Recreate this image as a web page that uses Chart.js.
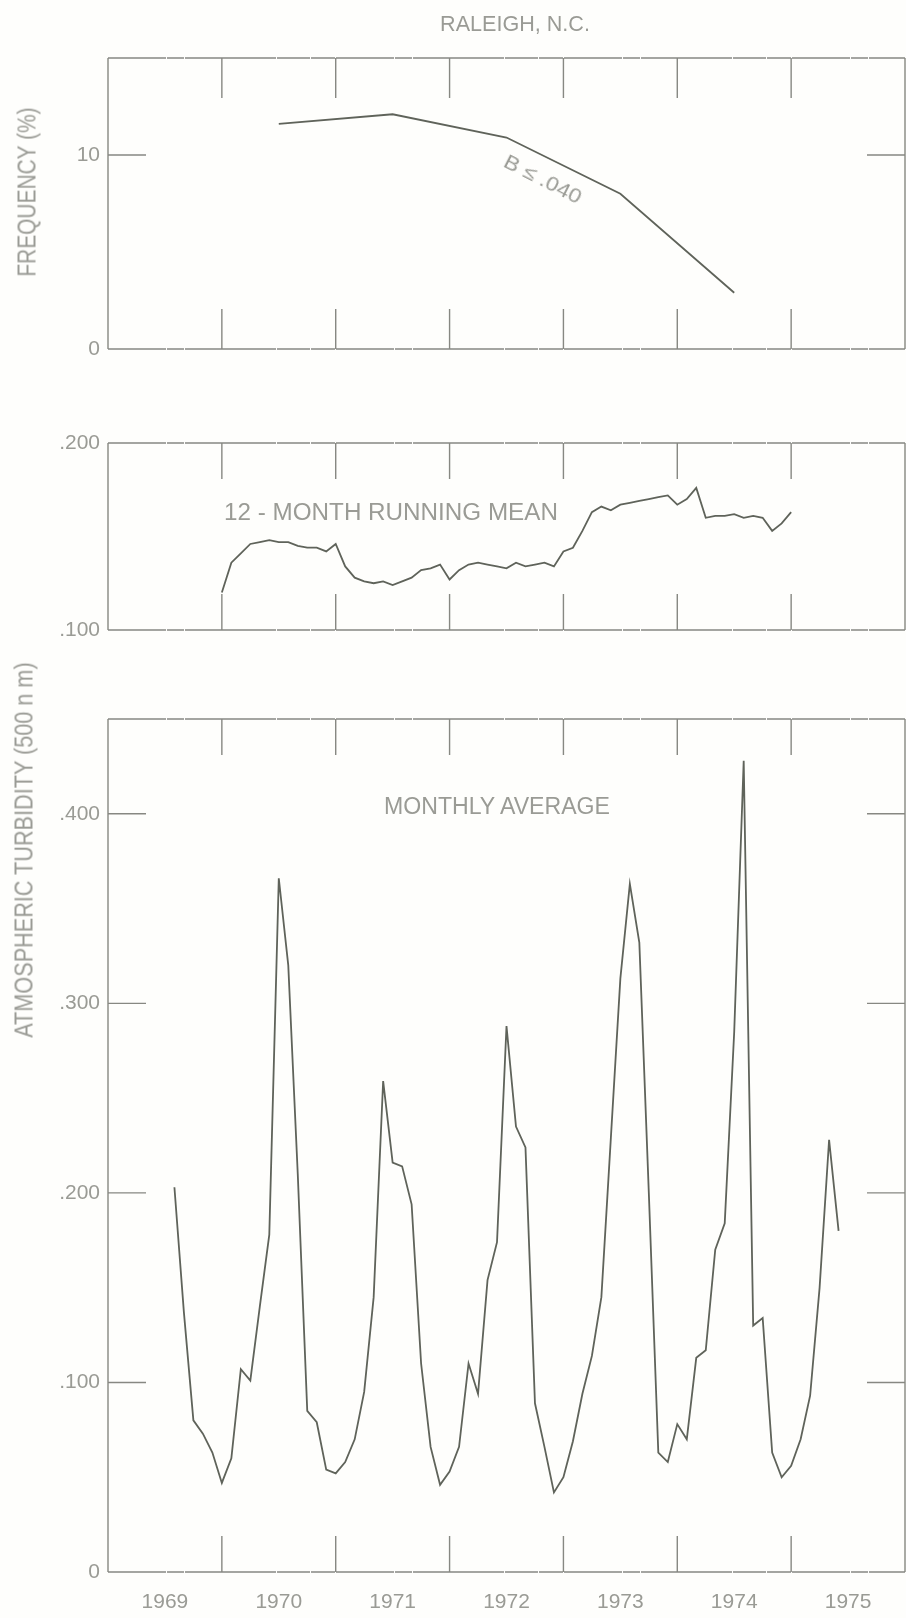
<!DOCTYPE html>
<html lang="en">
<head>
<meta charset="utf-8">
<title>Raleigh, N.C. atmospheric turbidity</title>
<script src="https://cdn.jsdelivr.net/npm/chart.js@4.4.1/dist/chart.umd.min.js"></script>
<style>
  html, body { margin: 0; padding: 0; background: #fefefc; }
  #page { position: relative; width: 906px; height: 1618px; overflow: hidden; background: #fefefc; }
  #page canvas { position: absolute; left: 0; }
  .txt { position: absolute; left: 0; top: 0; white-space: nowrap; line-height: 1;
         transform-origin: 0 0; color: #9a9b95;
         font-family: 'Liberation Sans', Arial, sans-serif; }
</style>
</head>
<body>
<div id="page">
  <canvas id="freqChart"></canvas>
  <canvas id="meanChart"></canvas>
  <canvas id="monthlyChart"></canvas>
  <div class="txt" id="title" style="font-size:22px">RALEIGH, N.C.</div>
  <div class="txt" id="freqTitle" style="font-size:25px">FREQUENCY (%)</div>
  <div class="txt" id="turbTitle" style="font-size:25px">ATMOSPHERIC TURBIDITY (500 n m)</div>
  <div class="txt" id="freqNote" style="font-size:20px">B ≤ .040</div>
  <div class="txt" id="meanNote" style="font-size:23px">12 - MONTH RUNNING MEAN</div>
  <div class="txt" id="monthlyNote" style="font-size:23px">MONTHLY AVERAGE</div>
</div>
<script>
// ---- data ---------------------------------------------------------------
const yearLabels = ['1969', '1970', '1971', '1972', '1973', '1974', '1975'];
const yearBounds = [1970, 1971, 1972, 1973, 1974, 1975];

// frequency (%) of days with B <= .040, one value per year, plotted mid-year
const freqYears = [1970.5, 1971.5, 1972.5, 1973.5, 1974.5];
const freqPct   = [11.6, 12.1, 10.9, 8.0, 2.9];

// 12-month running mean of turbidity, monthly from January 1970
const meanStart = 1970;
const meanTurbidity = [
  0.120, 0.136, 0.141, 0.146, 0.147, 0.148, 0.147, 0.147, 0.145, 0.144,
  0.144, 0.142, 0.146, 0.134, 0.128, 0.126, 0.125, 0.126, 0.124, 0.126,
  0.128, 0.132, 0.133, 0.135, 0.127, 0.132, 0.135, 0.136, 0.135, 0.134,
  0.133, 0.136, 0.134, 0.135, 0.136, 0.134, 0.142, 0.144, 0.153, 0.163,
  0.166, 0.164, 0.167, 0.168, 0.169, 0.170, 0.171, 0.172, 0.167, 0.170,
  0.176, 0.160, 0.161, 0.161, 0.162, 0.160, 0.161, 0.160, 0.153, 0.157,
  0.163
];

// monthly average turbidity (500 nm), from August 1969
const monthlyStart = 1969 + 7 / 12;
const monthlyTurbidity = [
  0.203, 0.137, 0.080, 0.073, 0.063,                                   // 1969 Aug-Dec
  0.047, 0.060, 0.107, 0.101, 0.140, 0.178, 0.366, 0.320, 0.210, 0.085, 0.079, 0.054, // 1970
  0.052, 0.058, 0.070, 0.095, 0.145, 0.259, 0.216, 0.214, 0.194, 0.110, 0.066, 0.046, // 1971
  0.053, 0.066, 0.110, 0.094, 0.154, 0.174, 0.288, 0.235, 0.224, 0.089, 0.066, 0.042, // 1972
  0.050, 0.069, 0.094, 0.114, 0.145, 0.229, 0.313, 0.363, 0.332, 0.200, 0.063, 0.058, // 1973
  0.078, 0.070, 0.113, 0.117, 0.170, 0.184, 0.285, 0.428, 0.130, 0.134, 0.063, 0.050, // 1974
  0.056, 0.070, 0.093, 0.150, 0.228, 0.180                                            // 1975
];

const freqTicks = [0, 10];
const meanTicks = [0.1, 0.2];
const turbTicks = [0, 0.1, 0.2, 0.3, 0.4];
const turbSideTicks = [0.1, 0.2, 0.3, 0.4];

// ---- layout & style -----------------------------------------------------
const PAGE_W = 906, PAGE_H = 1618;
const PLOT_LEFT = 108, PLOT_RIGHT = 905;
const PAD = 30;
const LINE = '#5f635a';
const FRAME = '#878882';
const TEXT = '#9a9b95';
const FONT = "'Liberation Sans', Arial, sans-serif";
const RULE_DASH = [58, 1, 17, 1, 91, 1, 33, 1, 24, 1];

const panels = {
  freq:    { top: 58,  bottom: 349,  min: 0,   max: 15   },
  mean:    { top: 443, bottom: 630,  min: 0.1, max: 0.2  },
  monthly: { top: 719, bottom: 1572, min: 0,   max: 0.45 }
};

const fmtTurb = v => (v === 0 ? '0' : '.' + String(Math.round(v * 1000)).padStart(3, '0'));

// frame with inward tick marks, drawn through the chart's own scales
const panelFrame = {
  id: 'panelFrame',
  beforeDatasetsDraw(chart, args, o) {
    const { ctx, chartArea: a, scales } = chart;
    ctx.save();
    ctx.strokeStyle = FRAME;
    ctx.lineWidth = 1.4;
    // horizontal rules, faintly broken like a ruled print
    ctx.setLineDash(RULE_DASH);
    ctx.beginPath();
    ctx.moveTo(a.left, a.top);    ctx.lineTo(a.right, a.top);
    ctx.moveTo(a.left, a.bottom); ctx.lineTo(a.right, a.bottom);
    ctx.stroke();
    ctx.setLineDash([]);
    ctx.beginPath();
    ctx.moveTo(a.left, a.top);  ctx.lineTo(a.left, a.bottom);
    ctx.moveTo(a.right, a.top); ctx.lineTo(a.right, a.bottom);
    for (const yr of o.xTicks) {
      const x = scales.x.getPixelForValue(yr);
      ctx.moveTo(x, a.top);    ctx.lineTo(x, a.top + o.xLen);
      ctx.moveTo(x, a.bottom); ctx.lineTo(x, a.bottom - o.xLen);
    }
    for (const v of o.yLeft) {
      const y = scales.y.getPixelForValue(v);
      ctx.moveTo(a.left, y); ctx.lineTo(a.left + o.yLen, y);
    }
    for (const v of o.yRight) {
      const y = scales.y.getPixelForValue(v);
      ctx.moveTo(a.right, y); ctx.lineTo(a.right - o.yLen, y);
    }
    ctx.stroke();
    ctx.restore();
  }
};

function makeChart(id, panel, opt) {
  const canvas = document.getElementById(id);
  const top = panel.top - PAD;
  const below = opt.showYears ? PAGE_H - panel.bottom : PAD;
  const h = panel.bottom - top + below;
  canvas.width = PAGE_W; canvas.height = h;
  canvas.style.top = top + 'px';
  canvas.style.width = PAGE_W + 'px'; canvas.style.height = h + 'px';

  const xScale = opt.showYears ? {
    type: 'linear', min: 1969, max: 1976,
    afterBuildTicks: s => { s.ticks = yearLabels.map(y => ({ value: Number(y) + 0.5 })); },
    afterFit: s => { s.height = PAGE_H - panel.bottom; },
    ticks: { autoSkip: false, maxRotation: 0, minRotation: 0, padding: 18, color: TEXT,
             font: { family: FONT, size: 21 }, callback: (v, i) => yearLabels[i] },
    grid: { display: false, drawTicks: false },
    border: { display: false }
  } : { type: 'linear', min: 1969, max: 1976, display: false };

  return new Chart(canvas, {
    type: 'line',
    data: { datasets: [{ data: opt.points, borderColor: LINE, borderWidth: 1.8,
                         pointRadius: 0, tension: 0, fill: false }] },
    options: {
      responsive: false, animation: false, devicePixelRatio: 1,
      layout: { padding: { top: PAD, bottom: opt.showYears ? 0 : PAD, left: 0, right: PAGE_W - PLOT_RIGHT } },
      plugins: {
        legend: { display: false }, tooltip: { enabled: false },
        panelFrame: opt.frame
      },
      scales: {
        x: xScale,
        y: {
          type: 'linear', min: panel.min, max: panel.max,
          afterFit: s => { s.width = PLOT_LEFT; },
          afterBuildTicks: s => { s.ticks = opt.yTicks.map(v => ({ value: v })); },
          ticks: { padding: 8, color: TEXT, font: { family: FONT, size: 21 }, callback: opt.fmt },
          grid: { display: false, drawTicks: false },
          border: { display: false }
        }
      }
    },
    plugins: [panelFrame]
  });
}

makeChart('freqChart', panels.freq, {
  points: freqYears.map((t, i) => ({ x: t, y: freqPct[i] })),
  yTicks: freqTicks, fmt: v => String(v),
  frame: { xTicks: yearBounds, xLen: 40, yLeft: [10], yRight: [10], yLen: 38 }
});

makeChart('meanChart', panels.mean, {
  points: meanTurbidity.map((v, i) => ({ x: meanStart + i / 12, y: v })),
  yTicks: meanTicks, fmt: fmtTurb,
  frame: { xTicks: yearBounds, xLen: 36, yLeft: [], yRight: [], yLen: 38 }
});

makeChart('monthlyChart', panels.monthly, {
  points: monthlyTurbidity.map((v, i) => ({ x: monthlyStart + i / 12, y: v })),
  yTicks: turbTicks, fmt: fmtTurb, showYears: true,
  frame: { xTicks: yearBounds, xLen: 36, yLeft: turbSideTicks, yRight: turbSideTicks, yLen: 38 }
});

// ---- text placed by centre, length along the baseline and angle ---------
function place(id, cx, cy, len, angle) {
  const el = document.getElementById(id);
  const sx = len / el.offsetWidth;
  el.style.transform = `translate(${cx}px, ${cy}px) rotate(${angle}deg) scale(${sx}, 1) translate(-50%, -50%)`;
}
place('title', 515, 24, 150, 0);
place('freqTitle', 27, 192, 169, -90);
place('turbTitle', 24, 850, 375, -90);
place('freqNote', 543, 179, 84, 27);
place('meanNote', 391, 512, 334, 0);
place('monthlyNote', 497, 806, 226, 0);
</script>
</body>
</html>
